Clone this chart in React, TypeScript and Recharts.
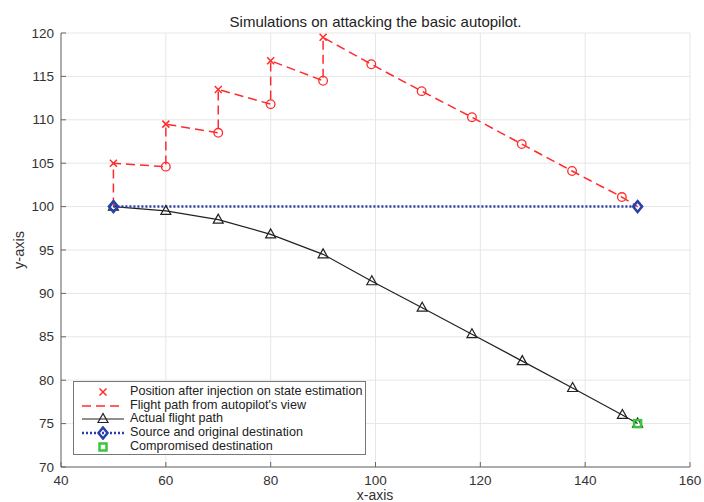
import React from "react";
import { ComposedChart, Line, XAxis, YAxis, CartesianGrid } from "recharts";

const xTicks = [40, 60, 80, 100, 120, 140, 160];
const yTicks = [70, 75, 80, 85, 90, 95, 100, 105, 110, 115, 120];

// positions after the injected offsets (x markers)
const injectedX = [50, 60, 70, 80, 90];
const injectedY = [105, 109.5, 113.5, 116.8, 119.5];

// autopilot's estimated positions (circles)
const viewX = [60, 70, 80, 90, 99.2, 108.8, 118.4, 127.9, 137.5, 147];
const viewY = [104.6, 108.5, 111.8, 114.5, 116.4, 113.3, 110.3, 107.2, 104.1, 101.1];

// actual flight path (triangles)
const actualX = [50, 60, 70, 80, 90, 99.3, 108.9, 118.4, 128, 137.6, 147.1, 150];
const actualY = [100, 99.5, 98.5, 96.8, 94.5, 91.4, 88.35, 85.3, 82.2, 79.1, 76.0, 75];

const sourceDestX = [50, 150];
const sourceDestY = [100, 100];

const compromisedX = [150];
const compromisedY = [75];

const legendLabels = [
  "Position after injection on state estimation",
  "Flight path from autopilot's view",
  "Actual flight path",
  "Source and original destination",
  "Compromised destination",
];

const zip = (xs: number[], ys: number[]) => xs.map((x, i) => ({ x, y: ys[i] }));

const injected = zip(injectedX, injectedY);
const view = zip(viewX, viewY);
const actual = zip(actualX, actualY);
const sourceDest = zip(sourceDestX, sourceDestY);
const compromised = zip(compromisedX, compromisedY);

// dashed path: start, then jump up / drift down pairs, then the rest of the estimates, then destination
const viewPath = [
  sourceDest[0],
  ...injected.flatMap((p, i) => [p, view[i]]),
  ...view.slice(injected.length),
  sourceDest[1],
];

const RED = "#ff2b2b";
const BLUE = "#2840a8";
const GREEN = "#3cc43c";
const FONT = "'Liberation Sans', Arial, sans-serif";

const Cross = ({ cx, cy }: { cx: number; cy: number }) => (
  <g>
    <line x1={cx - 3.5} y1={cy - 3.5} x2={cx + 3.5} y2={cy + 3.5} stroke={RED} strokeWidth={1.5} />
    <line x1={cx - 3.5} y1={cy + 3.5} x2={cx + 3.5} y2={cy - 3.5} stroke={RED} strokeWidth={1.5} />
  </g>
);
const Circ = ({ cx, cy }: { cx: number; cy: number }) => (
  <circle cx={cx} cy={cy} r={4.3} fill="none" stroke={RED} strokeWidth={1.3} />
);
const Tri = ({ cx, cy }: { cx: number; cy: number }) => (
  <polygon
    points={`${cx},${cy - 5.5} ${cx - 5},${cy + 3.5} ${cx + 5},${cy + 3.5}`}
    fill="none"
    stroke="#222"
    strokeWidth={1.2}
  />
);
const Diamond = ({ cx, cy }: { cx: number; cy: number }) => (
  <polygon
    points={`${cx},${cy - 5.5} ${cx + 4.5},${cy} ${cx},${cy + 5.5} ${cx - 4.5},${cy}`}
    fill="none"
    stroke={BLUE}
    strokeWidth={2.5}
  />
);
const Square = ({ cx, cy }: { cx: number; cy: number }) => (
  <rect x={cx - 3.5} y={cy - 3.5} width={7} height={7} fill="none" stroke={GREEN} strokeWidth={2.5} />
);

const dotOf = (Shape: any) => (p: any) => <Shape key={`m-${p.index}`} cx={p.cx} cy={p.cy} />;

const XTick = ({ x, y, payload }: any) => (
  <g>
    <line x1={x} x2={x} y1={y} y2={y - 5} stroke="#666" />
    <text x={x} y={y + 18} textAnchor="middle" fontSize={13.5} fill="#333" fontFamily={FONT}>
      {payload.value}
    </text>
  </g>
);

const YTick = ({ x, y, payload }: any) => (
  <g>
    <line x1={x} x2={x + 5} y1={y} y2={y} stroke="#666" />
    <text x={x - 7} y={y + 4.5} textAnchor="end" fontSize={13.5} fill="#333" fontFamily={FONT}>
      {payload.value}
    </text>
  </g>
);

function LegendSymbol({ i }: { i: number }) {
  const w = 42;
  const c = 7;
  if (i === 0) return <svg width={w} height={14}><Cross cx={21} cy={c} /></svg>;
  if (i === 1)
    return (
      <svg width={w} height={14}>
        <line x1={0} x2={42} y1={c} y2={c} stroke={RED} strokeWidth={1.5} strokeDasharray="9 5" />
      </svg>
    );
  if (i === 2)
    return (
      <svg width={w} height={14}>
        <line x1={0} x2={42} y1={c} y2={c} stroke="#222" strokeWidth={1.2} />
        <Tri cx={21} cy={c} />
      </svg>
    );
  if (i === 3)
    return (
      <svg width={w} height={14}>
        <line x1={0} x2={42} y1={c} y2={c} stroke={BLUE} strokeWidth={2.5} strokeDasharray="2 2" />
        <Diamond cx={21} cy={c} />
      </svg>
    );
  return <svg width={w} height={14}><Square cx={21} cy={c} /></svg>;
}

export default function App() {
  return (
    <div style={{ position: "absolute", left: 0, top: 0, width: 704, height: 502, background: "#fff", fontFamily: FONT }}>
      <ComposedChart width={704} height={502} margin={{ top: 33, right: 14, bottom: 0, left: 0 }}>
        <CartesianGrid stroke="#e6e6e6" strokeWidth={1} />
        <XAxis
          type="number"
          dataKey="x"
          domain={[40, 160]}
          ticks={xTicks}
          height={35}
          tickSize={0}
          tickMargin={0}
          tickLine={false}
          axisLine={{ stroke: "#666" }}
          tick={<XTick />}
          allowDataOverflow
        />
        <YAxis
          type="number"
          dataKey="y"
          domain={[70, 120]}
          ticks={yTicks}
          width={61}
          tickSize={0}
          tickMargin={0}
          tickLine={false}
          axisLine={{ stroke: "#666" }}
          tick={<YTick />}
          allowDataOverflow
        />
        <Line data={viewPath} dataKey="y" type="linear" stroke={RED} strokeWidth={1.5} strokeDasharray="9 5" dot={false} isAnimationActive={false} />
        <Line data={view} dataKey="y" type="linear" stroke="none" dot={dotOf(Circ)} activeDot={false} isAnimationActive={false} />
        <Line data={actual} dataKey="y" type="linear" stroke="#222" strokeWidth={1.2} dot={dotOf(Tri)} activeDot={false} isAnimationActive={false} />
        <Line data={sourceDest} dataKey="y" type="linear" stroke={BLUE} strokeWidth={2.5} strokeDasharray="2 2" dot={dotOf(Diamond)} activeDot={false} isAnimationActive={false} />
        <Line data={compromised} dataKey="y" type="linear" stroke="none" dot={dotOf(Square)} activeDot={false} isAnimationActive={false} />
        <Line data={injected} dataKey="y" type="linear" stroke="none" dot={dotOf(Cross)} activeDot={false} isAnimationActive={false} />
      </ComposedChart>

      <div style={{ position: "absolute", left: 375.5, top: 22, transform: "translate(-50%,-50%)", fontSize: 15, lineHeight: "18px", color: "#222", whiteSpace: "nowrap" }}>
        Simulations on attacking the basic autopilot.
      </div>
      <div style={{ position: "absolute", left: 375, top: 495, transform: "translate(-50%,-50%)", fontSize: 14, lineHeight: "14px", color: "#333", whiteSpace: "nowrap" }}>
        x-axis
      </div>
      <div style={{ position: "absolute", left: 19, top: 250, transform: "translate(-50%,-50%) rotate(-90deg)", fontSize: 14.5, lineHeight: "17px", color: "#333", whiteSpace: "nowrap" }}>
        y-axis
      </div>

      <div
        style={{
          position: "absolute",
          left: 73,
          top: 381,
          width: 291,
          height: 69,
          border: "1px solid #777",
          background: "#fff",
          paddingTop: 3,
          boxSizing: "content-box",
        }}
      >
        {legendLabels.map((label, i) => (
          <div key={label} style={{ display: "flex", alignItems: "center", height: 13.7, paddingLeft: 8 }}>
            <LegendSymbol i={i} />
            <span style={{ marginLeft: 6, fontSize: 12.6, color: "#222", whiteSpace: "nowrap", lineHeight: "13.7px" }}>{label}</span>
          </div>
        ))}
      </div>
    </div>
  );
}
